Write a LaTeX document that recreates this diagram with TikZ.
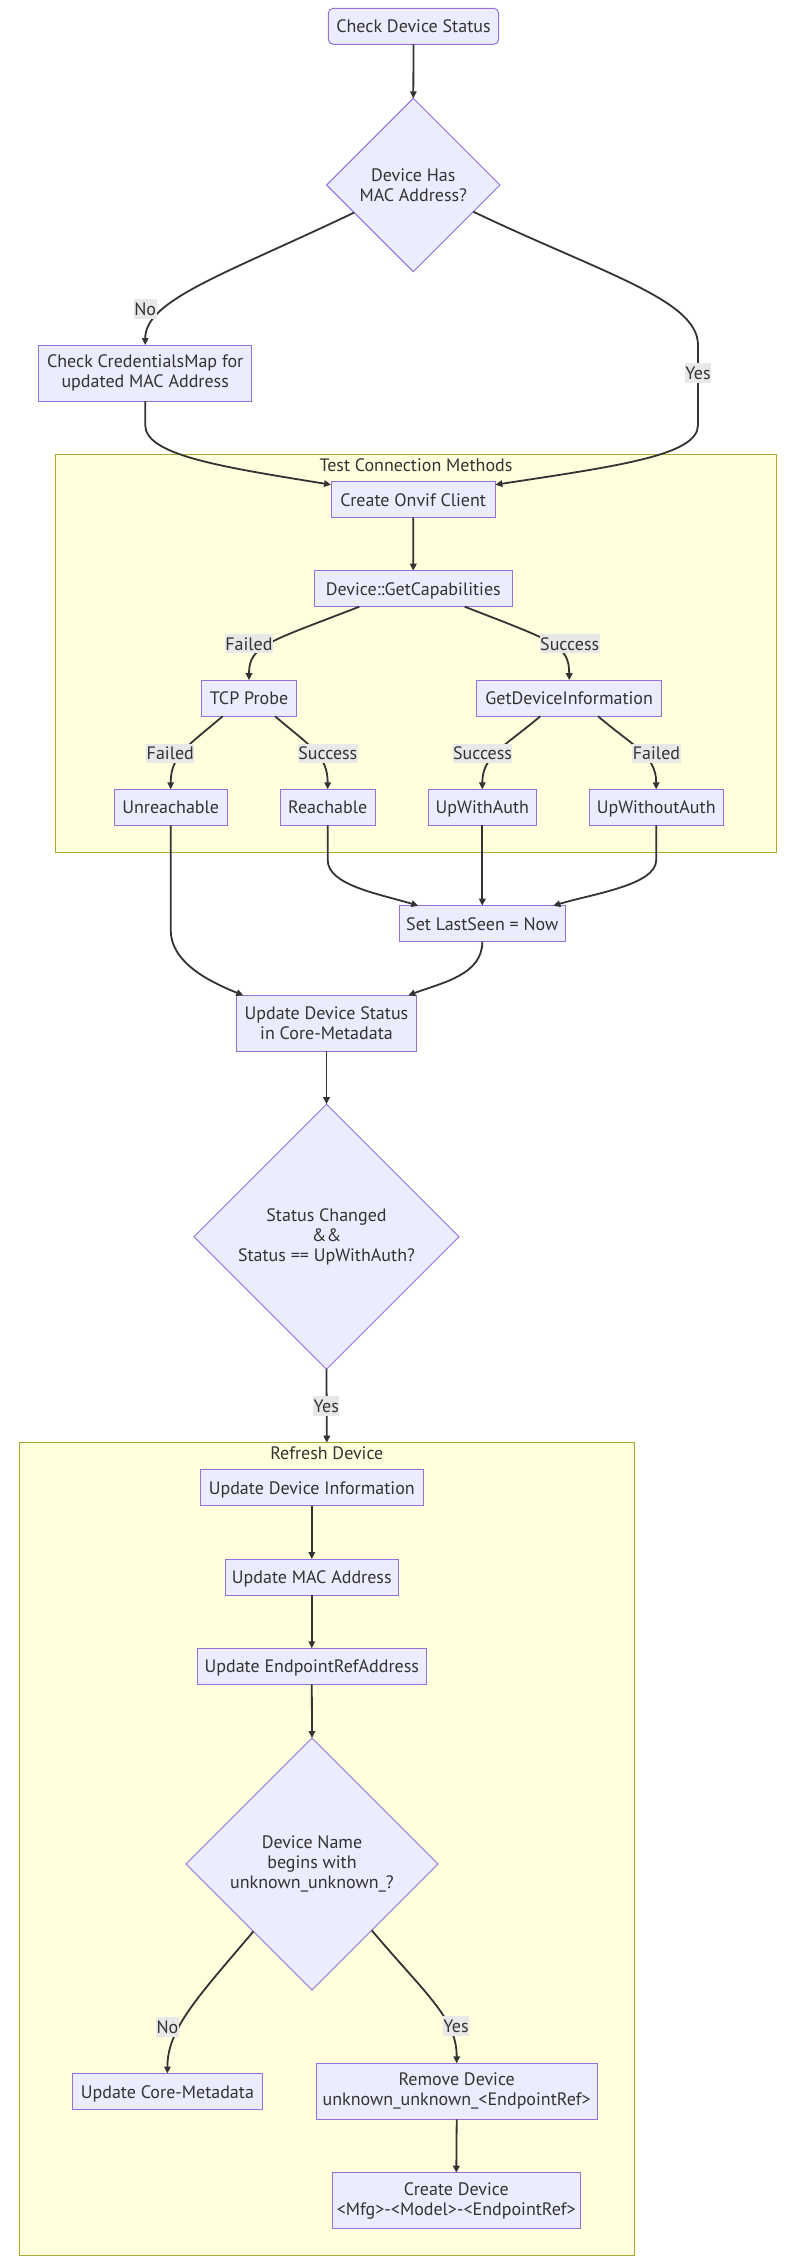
\documentclass[tikz,border=0pt]{standalone}
\usepackage{fontspec}
\setmainfont{PT Sans}
\usetikzlibrary{arrows.meta,shapes.geometric}
\definecolor{nodefill}{HTML}{ECECFF}
\definecolor{nodeline}{HTML}{9370DB}
\definecolor{clfill}{HTML}{FFFFDE}
\definecolor{clline}{HTML}{AAAA33}
\definecolor{edgecol}{HTML}{333333}
\definecolor{txt}{HTML}{333333}
\definecolor{lblbg}{HTML}{E8E8E8}
\begin{document}
\begin{tikzpicture}[x=1pt,y=-1pt,
  every node/.style={font=\fontsize{18}{20}\selectfont, text=txt},
  box/.style={rectangle, draw=nodeline, fill=nodefill, line width=1pt, inner sep=0pt, outer sep=0pt, align=center, minimum height=36pt},
  onel/.style={text height=13pt, text depth=0pt},
  twol/.style={minimum height=56pt},
  rbox/.style={box, rounded corners=5pt},
  dec/.style={diamond, aspect=1, draw=nodeline, fill=nodefill, line width=1pt, inner sep=0pt, outer sep=0pt, align=center},
  cluster/.style={rectangle, draw=clline, fill=clfill, line width=1pt, inner sep=0pt, outer sep=0pt},
  ctitle/.style={inner sep=0pt},
  flow/.style={draw=edgecol, line width=1.8pt, -{Triangle[length=7pt,width=6.5pt]}},
  elabel/.style={fill=lblbg, inner xsep=0.5pt, inner ysep=2pt, text height=14pt, text depth=1.4pt},
]
\useasboundingbox (0,0) rectangle (798,2263);
\fill[white] (0,0) rectangle (798,2263);

% clusters
\node[cluster, minimum width=720.6pt, minimum height=398pt] (cl1) at (416,653.3) {};
\node[ctitle] (t1) at (416,465) {Test Connection Methods};
\node[cluster, minimum width=615pt, minimum height=812.6pt] (cl2) at (326.8,1849) {};
\node[ctitle] (t2) at (326.8,1453) {Refresh Device};

% nodes
\node[rbox, onel, minimum width=170.4pt] (A) at (413.5,26.3) {Check Device Status};
\node[dec, minimum width=173.4pt, minimum height=173.4pt] (B) at (413.3,185) {Device Has\\MAC Address?};
\node[box, twol, minimum width=213pt] (C) at (145.2,373) {Check CredentialsMap for\\updated MAC Address};
\node[box, onel, minimum width=164.3pt, minimum height=35.6pt] (D) at (413.2,499.5) {Create Onvif Client};
\node[box, onel, minimum width=198pt] (E) at (413.3,588.7) {Device::GetCapabilities};
\node[box, onel, minimum width=94.6pt] (F) at (249,698.2) {TCP Probe};
\node[box, onel, minimum width=185pt] (G) at (569.2,698.2) {GetDeviceInformation};
\node[box, onel, minimum width=112.7pt] (H) at (170.7,807.3) {Unreachable};
\node[box, onel, minimum width=94.7pt] (I) at (327.7,807.3) {Reachable};
\node[box, onel, minimum width=108pt] (J) at (482.3,807.3) {UpWithAuth};
\node[box, onel, minimum width=133.7pt] (K) at (656.2,807.3) {UpWithoutAuth};
\node[box, onel, minimum width=166pt] (L) at (482.3,923.7) {Set LastSeen = Now};
\node[box, twol, minimum width=180.4pt] (M) at (326.5,1023.3) {Update Device Status\\in Core-Metadata};
\node[dec, minimum width=265pt, minimum height=265pt] (N) at (326.5,1236.7) {Status Changed\\\&\&\\Status == UpWithAuth?};
\node[box, onel, minimum width=223pt] (O) at (311.8,1487.7) {Update Device Information};
\node[box, onel, minimum width=173pt] (P) at (311.8,1577) {Update MAC Address};
\node[box, onel, minimum width=229pt] (Q) at (311.8,1666.3) {Update EndpointRefAddress};
\node[dec, minimum width=252pt, minimum height=252pt] (R) at (312,1864) {Device Name\\begins with\\unknown\_unknown\_?};
\node[box, onel, minimum width=190pt] (S) at (167.4,2091.5) {Update Core-Metadata};
\node[box, twol, minimum width=281.3pt] (T) at (456.7,2091.3) {Remove Device\\unknown\_unknown\_<EndpointRef>};
\node[box, twol, minimum width=248pt] (U) at (456.3,2200.7) {Create Device\\<Mfg>-<Model>-<EndpointRef>};

% waypoints
\coordinate (yv1) at (698,345);
\coordinate (yv2) at (698,425);
\coordinate (cv1) at (145.2,425);
\coordinate (hv) at (170.7,930);
\coordinate (iv) at (327.7,860);
\coordinate (kv) at (656.2,860);

% edges
\draw[flow] (A.south) -- (B.north);
\draw[flow] (B.205) .. controls +(-130,62) and +(0,-45) .. (C.north);
\draw[flow] (B.336) .. controls +(130,62) and +(0,-45) .. (yv1) -- (yv2) .. controls +(0,30) and +(125,-19) .. ([yshift=-3pt]D.north east);
\draw[flow] (C.south) -- (cv1) .. controls +(0,30) and +(-111,-18) .. ([yshift=-3pt]D.north west);
\draw[flow] (D.south) -- (E.north);
\draw[flow] ([xshift=-54pt]E.south) .. controls +(-90,35) and +(0,-35) .. (F.north);
\draw[flow] ([xshift=51.4pt]E.south) .. controls +(90,35) and +(0,-35) .. (G.north);
\draw[flow] ([xshift=-26.3pt]F.south) .. controls +(-35,30) and +(0,-34) .. (H.north);
\draw[flow] ([xshift=26pt]F.south) .. controls +(35,30) and +(0,-34) .. (I.north);
\draw[flow] ([xshift=-28.9pt]G.south) .. controls +(-35,30) and +(0,-34) .. (J.north);
\draw[flow] ([xshift=28.8pt]G.south) .. controls +(35,30) and +(0,-34) .. (K.north);
\draw[flow] (H.south) -- (hv) .. controls +(0,30) and +(-40,-16) .. ([xshift=7pt]M.north west);
\draw[flow] (I.south) -- (iv) .. controls +(0,25) and +(-40,-12) .. ([xshift=19pt]L.north west);
\draw[flow] (J.south) -- (L.north);
\draw[flow] (K.south) -- (kv) .. controls +(0,25) and +(40,-12) .. ([xshift=-12pt]L.north east);
\draw[flow] (L.south) .. controls +(0,33) and +(35,-13) .. ([xshift=-8.4pt]M.north east);
\draw[flow] (M.south) -- (N.north);
\draw[flow] (N.south) -- (cl2.north);
\draw[flow] (O.south) -- (P.north);
\draw[flow] (P.south) -- (Q.north);
\draw[flow] (Q.south) -- (R.north);
\draw[flow] (R.229) .. controls +(-55,65) and +(0,-45) .. (S.north);
\draw[flow] (R.312) .. controls +(55,65) and +(0,-45) .. (T.north);
\draw[flow] (T.south) -- (U.north);

% edge labels
\node[elabel] (lno1) at (145.2,309) {No};
\node[elabel] (lyes1) at (698,373) {Yes};
\node[elabel] (lf1) at (249,643.7) {Failed};
\node[elabel] (ls1) at (569.7,643.7) {Success};
\node[elabel] (lf2) at (170.3,753.3) {Failed};
\node[elabel] (ls2) at (327.8,753.3) {Success};
\node[elabel] (ls3) at (482.5,753.3) {Success};
\node[elabel] (lf3) at (656.5,753.3) {Failed};
\node[elabel] (lyes2) at (326.3,1406) {Yes};
\node[elabel] (lno2) at (167.4,2027) {No};
\node[elabel] (lyes3) at (456,2026) {Yes};
\end{tikzpicture}
\end{document}
